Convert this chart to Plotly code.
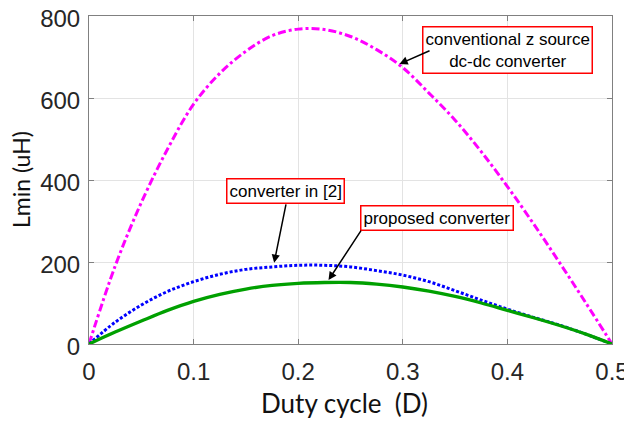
import plotly.graph_objects as go

duty = [0, 0.025, 0.05, 0.075, 0.1, 0.125, 0.15, 0.175, 0.2, 0.225, 0.25,
        0.275, 0.3, 0.325, 0.35, 0.375, 0.4, 0.425, 0.45, 0.475, 0.5]
conventional = [0, 190, 345, 475, 585, 660, 714, 752, 768, 767, 750,
                718, 674, 612, 546, 469, 384, 293, 198, 100, 0]
converter2 = [0, 53, 95, 128, 152, 170, 182, 188, 192, 192, 188,
              179, 168, 152, 130, 107, 85, 65, 46, 24, 0]
proposed = [0, 29, 56, 82, 104, 121, 134, 143, 148, 150, 150,
            146, 139, 129, 116, 100, 82, 64, 45, 24, 0]

x_ticks = [0, 0.1, 0.2, 0.3, 0.4, 0.5]
x_tick_labels = ["0", "0.1", "0.2", "0.3", "0.4", "0.5"]
y_ticks = [0, 200, 400, 600, 800]
y_tick_labels = ["0", "200", "400", "600", "800"]

fig = go.Figure()
fig.add_trace(go.Scatter(x=duty, y=conventional, mode="lines",
                         line=dict(color="#ff00ff", width=3, dash="8px,3px,3px,3px", shape="spline"),
                         name="conventional z source dc-dc converter"))
fig.add_trace(go.Scatter(x=duty, y=converter2, mode="lines",
                         line=dict(color="#0000ff", width=3, dash="3px,2px", shape="spline"),
                         name="converter in [2]"))
fig.add_trace(go.Scatter(x=duty, y=proposed, mode="lines",
                         line=dict(color="#00a000", width=3.3, shape="spline"),
                         name="proposed converter"))

axis_common = dict(showline=True, linecolor="#808080", linewidth=1, mirror="ticks",
                   ticks="inside", ticklen=5, tickcolor="#808080", automargin=False,
                   showgrid=True, gridcolor="#e3e3e3", gridwidth=1, zeroline=False,
                   ticklabeloverflow="allow",
                   tickfont=dict(family="Liberation Sans, Arial", size=24, color="#262626"))

fig.update_xaxes(range=[0, 0.5], tickvals=x_ticks, ticktext=x_tick_labels,
                 ticklabelstandoff=6, **axis_common)
fig.update_yaxes(range=[0, 800], tickvals=y_ticks, ticktext=y_tick_labels,
                 ticklabelstandoff=3, ticklabelshift=3, **axis_common)

# axis titles
fig.add_annotation(xref="paper", yref="paper", x=0.5, y=0, yshift=-59, xshift=-6,
                   xanchor="center", yanchor="middle", showarrow=False,
                   text="Duty cycle &nbsp;(D)",
                   font=dict(family="Lato", size=26, color="#111111"))
fig.add_annotation(xref="paper", yref="paper", x=0, y=0.5, xshift=-68,
                   xanchor="center", yanchor="middle", showarrow=False, textangle=-90,
                   text="Lmin (uH)", font=dict(family="Lato", size=23, color="#111111"))

box = dict(bordercolor="#ff0000", borderwidth=1.5, bgcolor="white", borderpad=2,
           font=dict(family="Liberation Sans, Arial", size=17, color="black"), showarrow=False,
           xref="x", yref="y")
fig.add_annotation(x=0.4004, y=718, text="conventional z source<br>dc-dc converter", **box)
fig.add_annotation(x=0.1880, y=373, text="converter in [2]", **box)
fig.add_annotation(x=0.3326, y=307, text="proposed converter", **box)

arrow = dict(text="", showarrow=True, arrowhead=2, arrowsize=1.1, arrowwidth=1.5,
             arrowcolor="black", xref="x", yref="y", axref="x", ayref="y")
fig.add_annotation(x=0.2968, y=683, ax=0.327, ay=717, **arrow)
fig.add_annotation(x=0.177, y=198, ax=0.1886, ay=344, **arrow)
fig.add_annotation(x=0.229, y=156, ax=0.261, ay=280, **arrow)

# the page body adds an 8px offset, so the figure is sized to the remaining window
fig.update_layout(width=624, height=413, margin=dict(l=81, r=20, t=8, b=77),
                  plot_bgcolor="white", paper_bgcolor="white", showlegend=False)

fig.write_html("out.html")
